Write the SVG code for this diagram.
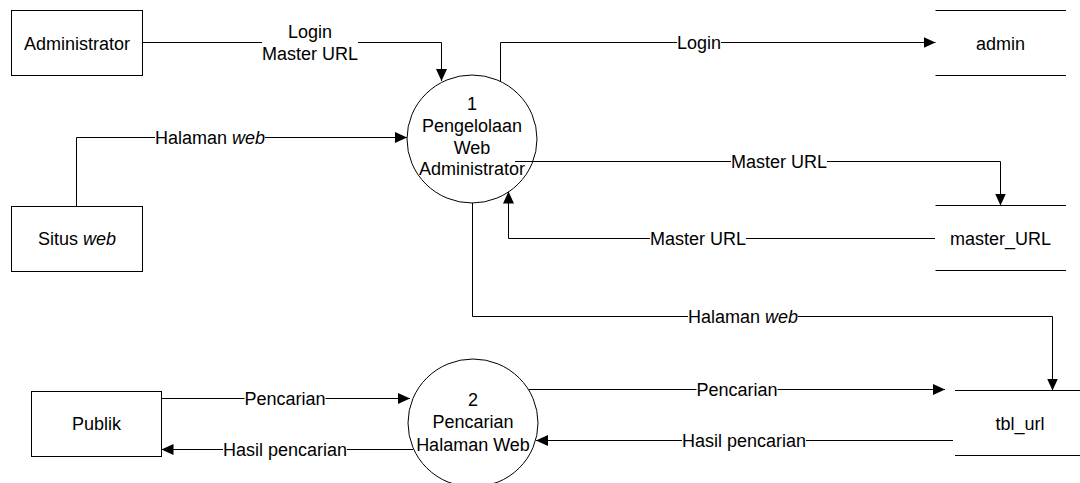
<svg xmlns="http://www.w3.org/2000/svg" width="1080" height="483" viewBox="0 0 1080 483">
  <style>
    .box { fill: #ffffff; stroke: #000000; stroke-width: 1; }
    .proc { fill: #ffffff; stroke: #000000; stroke-width: 1; }
    .store { stroke: #000000; stroke-width: 1; fill: none; }
    .flow { fill: none; stroke: #000000; stroke-width: 1; }
    .txt { font-family: "Liberation Sans", Arial, Helvetica, sans-serif; font-size: 18px; fill: #000000; text-anchor: middle; }
    .lblbg { fill: #ffffff; stroke: none; }
    .it { font-style: italic; }
  </style>
  <defs>
    <marker id="arrow" viewBox="0 0 12 11" refX="12" refY="5.5" markerWidth="12" markerHeight="11" markerUnits="userSpaceOnUse" orient="auto">
      <path d="M0,0 L12,5.5 L0,11 z" fill="#000000"/>
    </marker>
  </defs>

  <!-- external entities -->
  <g id="node-administrator">
    <rect class="box" x="11.5" y="10.5" width="131" height="65"/>
    <text class="txt" x="77" y="49.5">Administrator</text>
  </g>
  <g id="node-situs-web">
    <rect class="box" x="11.5" y="206.5" width="131" height="65"/>
    <text class="txt" x="77" y="245">Situs <tspan class="it">web</tspan></text>
  </g>
  <g id="node-publik">
    <rect class="box" x="31.5" y="391.5" width="130" height="65"/>
    <text class="txt" x="96.5" y="430">Publik</text>
  </g>

  <!-- processes -->
  <g id="node-proses-1">
    <ellipse class="proc" cx="472" cy="139" rx="65" ry="64"/>
    <text class="txt" x="472" y="110">1</text>
    <text class="txt" x="472" y="132">Pengelolaan</text>
    <text class="txt" x="472" y="153.5">Web</text>
    <text class="txt" x="472" y="175">Administrator</text>
  </g>
  <g id="node-proses-2">
    <ellipse class="proc" cx="473" cy="423" rx="65" ry="64"/>
    <text class="txt" x="473" y="405.5">2</text>
    <text class="txt" x="473" y="428">Pencarian</text>
    <text class="txt" x="473" y="450.5">Halaman Web</text>
  </g>

  <!-- data stores -->
  <g id="node-admin">
    <line class="store" x1="935.5" y1="10.5" x2="1066" y2="10.5"/>
    <line class="store" x1="935.5" y1="75.5" x2="1066" y2="75.5"/>
    <text class="txt" x="1000.5" y="49.5">admin</text>
  </g>
  <g id="node-master-url">
    <line class="store" x1="935.5" y1="205.5" x2="1066" y2="205.5"/>
    <line class="store" x1="935.5" y1="270.5" x2="1066" y2="270.5"/>
    <text class="txt" x="1000.5" y="245">master_URL</text>
  </g>
  <g id="node-tbl-url">
    <line class="store" x1="955" y1="390.5" x2="1085" y2="390.5"/>
    <line class="store" x1="955" y1="455.5" x2="1085" y2="455.5"/>
    <text class="txt" x="1020" y="430">tbl_url</text>
  </g>

  <!-- data flows -->
  <g id="connectors">
    <path class="flow" d="M142.5,42.5 H441.5 V81" marker-end="url(#arrow)"/>
    <path class="flow" d="M500.5,82 V42.5 H935.5" marker-end="url(#arrow)"/>
    <path class="flow" d="M76.5,206.5 V137.5 H407" marker-end="url(#arrow)"/>
    <path class="flow" d="M515,161.5 H1000.5 V205.5" marker-end="url(#arrow)"/>
    <path class="flow" d="M935,238.5 H508.5 V191.5" marker-end="url(#arrow)"/>
    <path class="flow" d="M472.5,203 V316.5 H1052.5 V390.5" marker-end="url(#arrow)"/>
    <path class="flow" d="M161.5,398.5 H410" marker-end="url(#arrow)"/>
    <path class="flow" d="M413,449.5 H161.5" marker-end="url(#arrow)"/>
    <path class="flow" d="M529,389.5 H945" marker-end="url(#arrow)"/>
    <path class="flow" d="M953,440.5 H536" marker-end="url(#arrow)"/>

    <g id="connector-labels">
      <rect class="lblbg" x="262" y="21" width="96" height="43"/>
      <text class="txt" x="310" y="37.5">Login</text>
      <text class="txt" x="310" y="59.5">Master URL</text>

      <rect class="lblbg" x="677" y="33" width="44" height="19"/>
      <text class="txt" x="699" y="49">Login</text>

      <rect class="lblbg" x="155" y="128" width="110" height="19"/>
      <text class="txt" x="210" y="144">Halaman <tspan class="it">web</tspan></text>

      <rect class="lblbg" x="731" y="152" width="96" height="19"/>
      <text class="txt" x="779" y="168">Master URL</text>

      <rect class="lblbg" x="650" y="229" width="96" height="19"/>
      <text class="txt" x="698" y="245">Master URL</text>

      <rect class="lblbg" x="688" y="307" width="110" height="19"/>
      <text class="txt" x="743" y="323">Halaman <tspan class="it">web</tspan></text>

      <rect class="lblbg" x="244.5" y="389" width="81" height="19"/>
      <text class="txt" x="285" y="405">Pencarian</text>

      <rect class="lblbg" x="223" y="440" width="124" height="19"/>
      <text class="txt" x="285" y="456">Hasil pencarian</text>

      <rect class="lblbg" x="696.5" y="380" width="81" height="19"/>
      <text class="txt" x="737" y="396">Pencarian</text>

      <rect class="lblbg" x="682" y="431" width="124" height="19"/>
      <text class="txt" x="744" y="447">Hasil pencarian</text>
    </g>
  </g>
</svg>
